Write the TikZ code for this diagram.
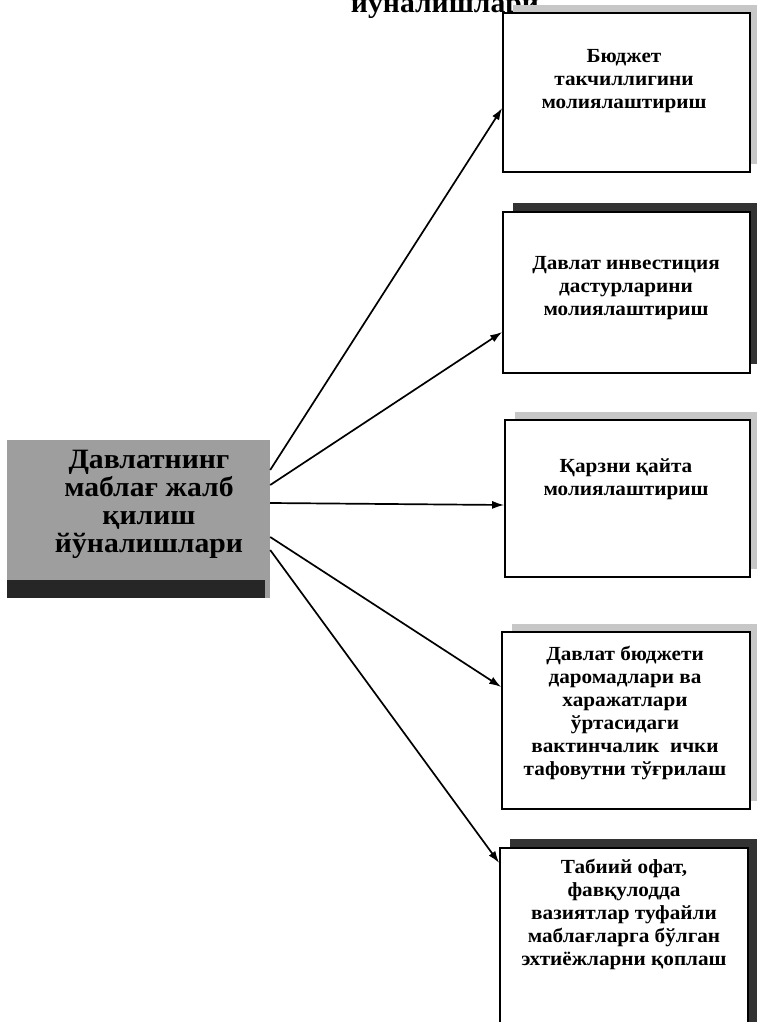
\documentclass[tikz,border=0pt]{standalone}
\usepackage{fontspec}
\setmainfont{Liberation Serif}
\newfontfamily\widefont[FakeStretch=1.06]{Liberation Serif}
\usetikzlibrary{shadows,arrows.meta}

\begin{document}
\begin{tikzpicture}[x=1pt,y=-1pt,
  box/.style={draw,line width=1.6pt,fill=white,minimum width=247pt,inner sep=0pt},
  lightshadow/.style={drop shadow={shadow xshift=10pt,shadow yshift=8pt,fill=black!22,opacity=1}},
  darkshadow/.style={drop shadow={shadow xshift=10pt,shadow yshift=9pt,fill=black!80,opacity=1}},
  txt/.style={align=center,font=\widefont\bfseries\fontsize{20}{23}\selectfont},
  arr/.style={line width=1.7pt,-{Latex[length=12pt,width=8pt]}}]
  \useasboundingbox (0,0) rectangle (756,1022);
  % heading, cut off by the page
  \node (head) at (445,13) [anchor=base,font=\widefont\bfseries\fontsize{28}{30}\selectfont] {йўналишлари};

  % left block
  \node (src) at (138.5,519) [fill=black!38,minimum width=263pt,minimum height=158pt,inner sep=0pt] {};
  \fill[black!85] (src.south west) rectangle ([xshift=-5pt,yshift=18pt]src.south east);
  \node (srctxt) at (149,504) [align=center,font=\widefont\bfseries\fontsize{28}{28}\selectfont]
    {Давлатнинг\\маблағ жалб\\қилиш\\йўналишлари};

  % right blocks
  \node (b1) at (626.5,92.5) [box,lightshadow,minimum height=159pt] {};
  \node (b2) at (626.5,292.5) [box,darkshadow,minimum height=161pt] {};
  \node (b3) at (627.5,498.5) [box,lightshadow,minimum width=245pt,minimum height=157pt] {};
  \node (b4) at (626,720.5) [box,lightshadow,minimum width=248pt,minimum height=177pt] {};
  \node (b5) at (624,944) [box,darkshadow,minimum width=248pt,minimum height=192pt] {};

  \node (t1) at (624,81) [txt] {Бюджет\\такчиллигини\\молиялаштириш};
  \node (t2) at (626,288) [txt] {Давлат инвестиция\\дастурларини\\молиялаштириш};
  \node (t3) at (626,479) [txt] {Қарзни қайта\\молиялаштириш};
  \node (t4) at (625,713) [txt] {Давлат бюджети\\даромадлари ва\\харажатлари\\ўртасидаги\\вактинчалик~ ички\\тафовутни тўғрилаш};
  \node (t5) at (624,914) [txt] {Табиий офат,\\фавқулодда\\вазиятлар туфайли\\маблағларга бўлган\\эхтиёжларни қоплаш};

  % arrows
  \draw[arr] ([yshift=49pt]src.east) -- ([yshift=-15.5pt]b1.west);
  \draw[arr] ([yshift=34pt]src.east) -- ([yshift=-39.5pt]b2.west);
  \draw[arr] ([yshift=16pt]src.east) -- ([yshift=-6.5pt]b3.west);
  \draw[arr] ([yshift=-18pt]src.east) -- ([yshift=33.5pt]b4.west);
  \draw[arr] ([yshift=-31pt]src.east) -- ([yshift=81pt]b5.west);
\end{tikzpicture}
\end{document}
